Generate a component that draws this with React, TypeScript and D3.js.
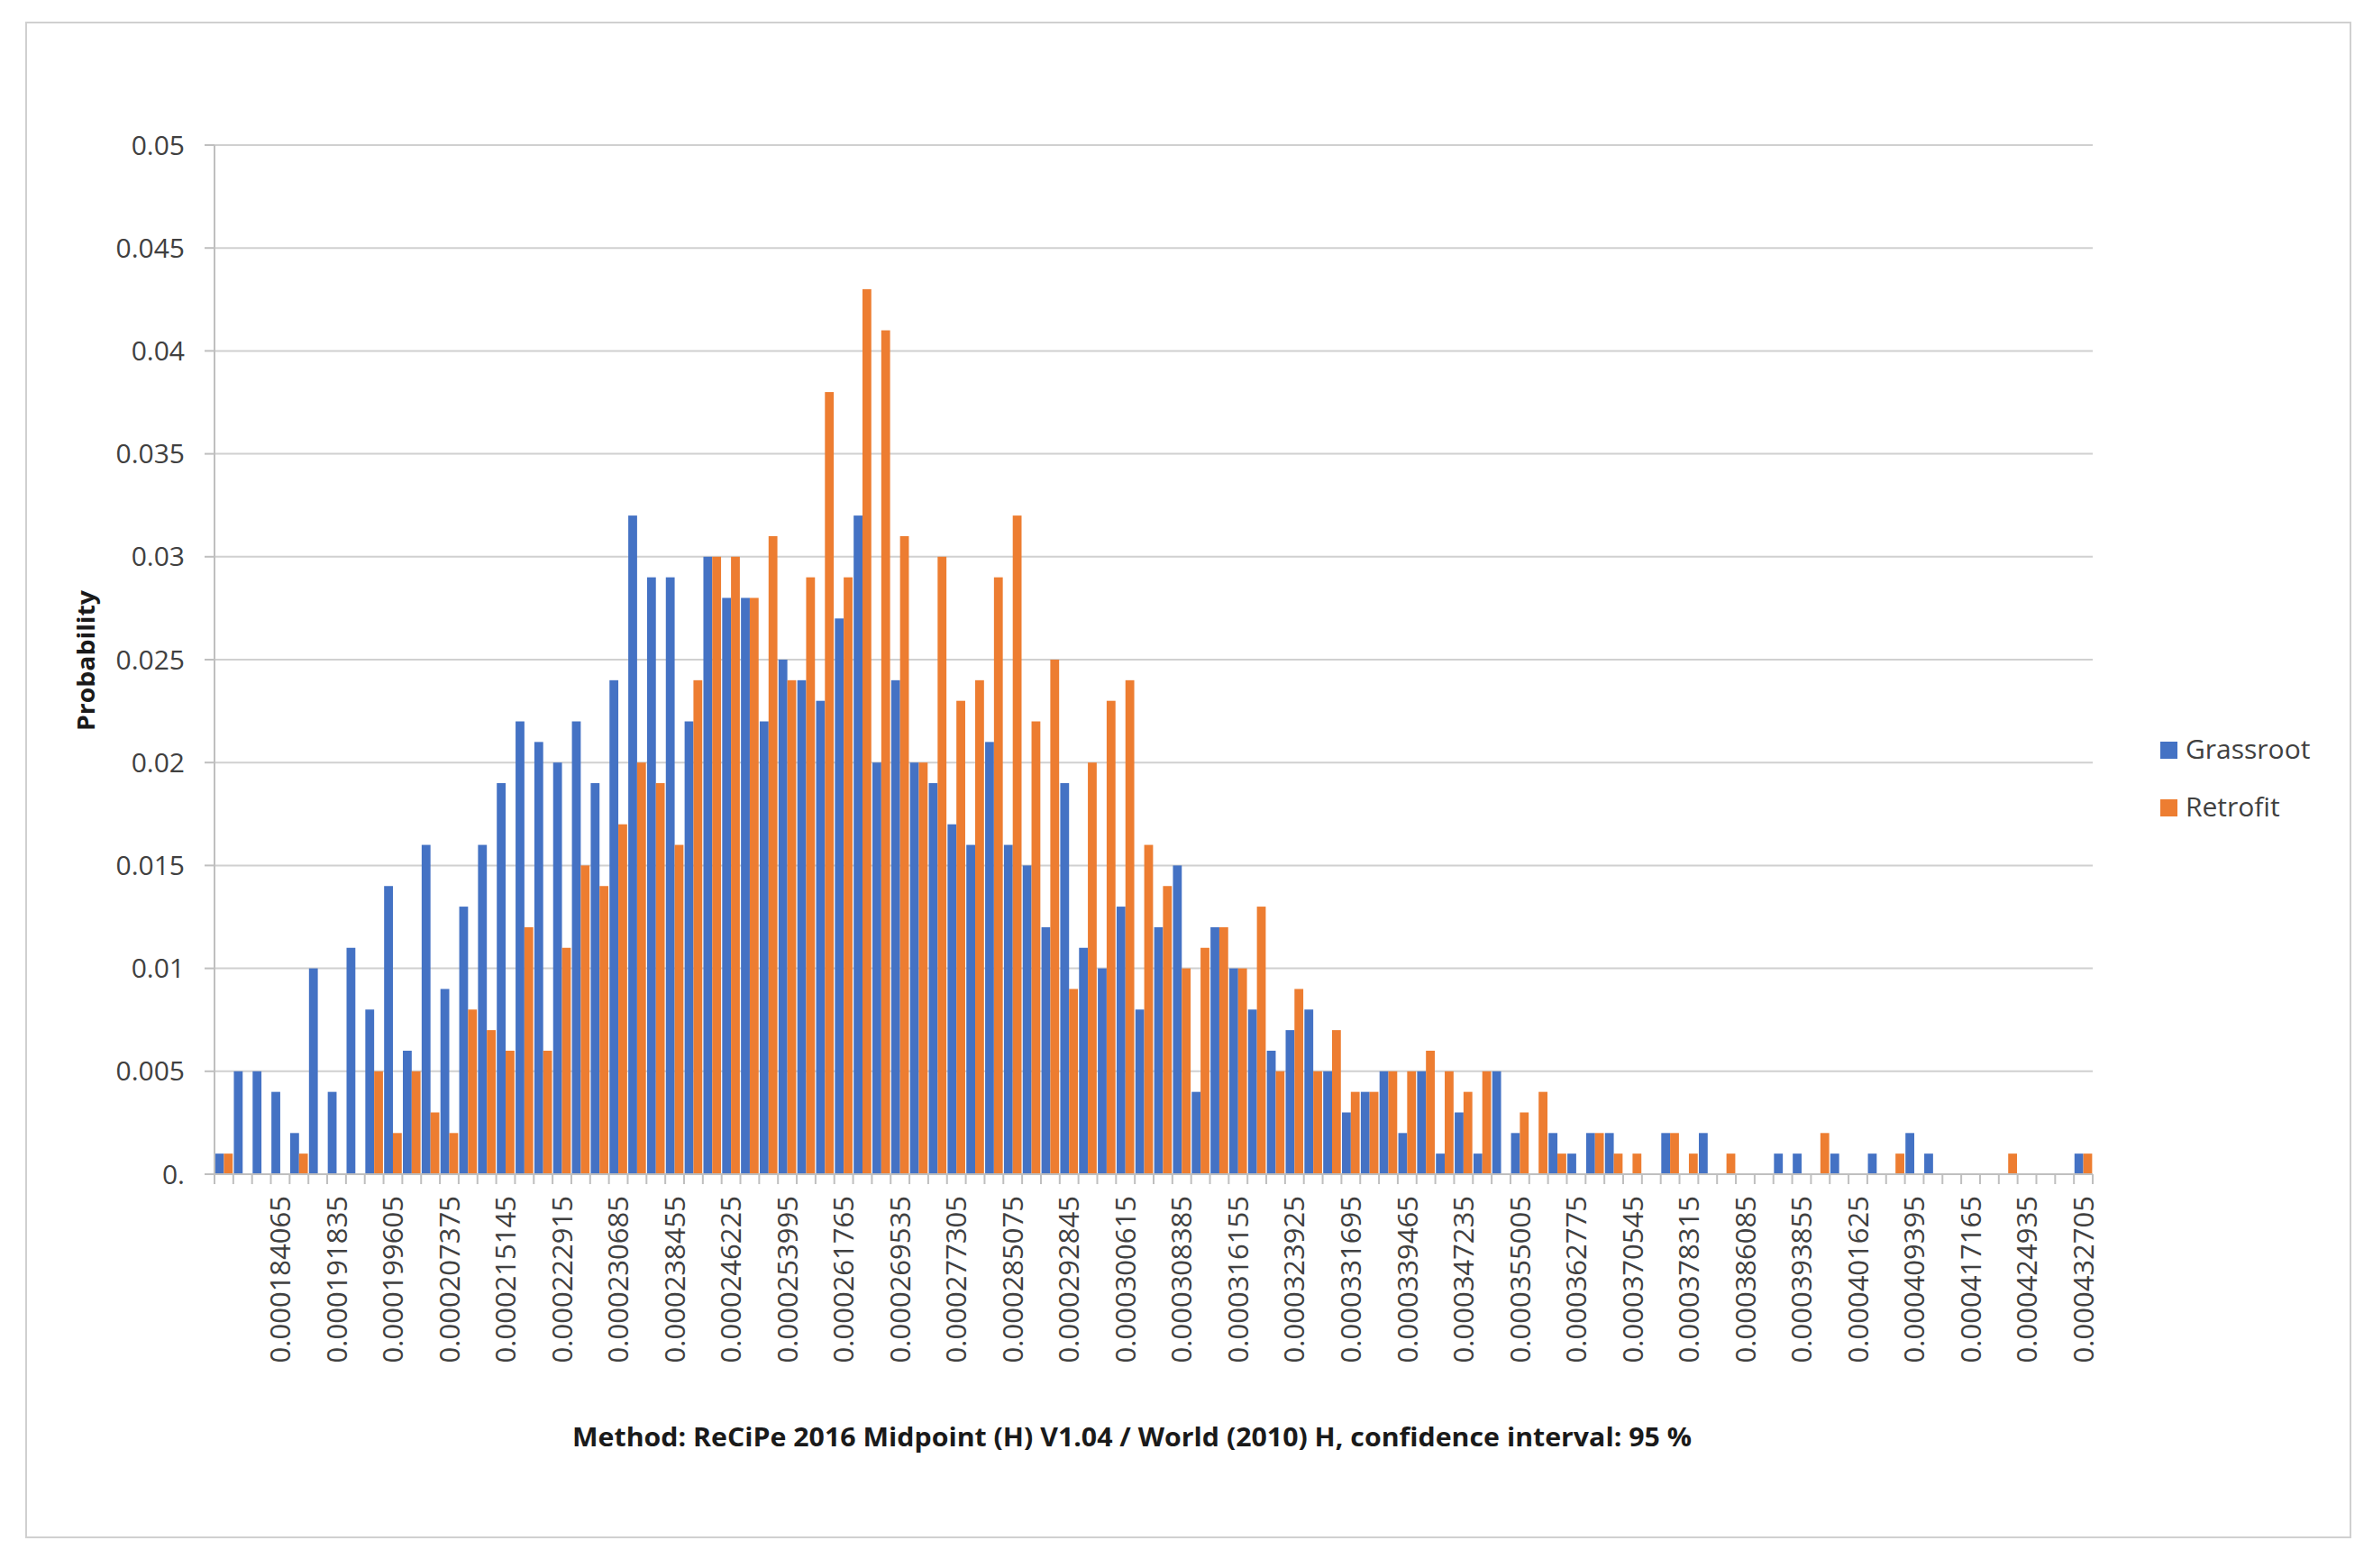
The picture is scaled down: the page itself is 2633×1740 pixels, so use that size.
import React from "react";
import * as d3 from "d3";

const categories: string[] = [
  "0.000176295","0.000178885","0.000181475","0.000184065","0.000186655","0.000189245","0.000191835","0.000194425","0.000197015","0.000199605",
  "0.000202195","0.000204785","0.000207375","0.000209965","0.000212555","0.000215145","0.000217735","0.000220325","0.000222915","0.000225505",
  "0.000228095","0.000230685","0.000233275","0.000235865","0.000238455","0.000241045","0.000243635","0.000246225","0.000248815","0.000251405",
  "0.000253995","0.000256585","0.000259175","0.000261765","0.000264355","0.000266945","0.000269535","0.000272125","0.000274715","0.000277305",
  "0.000279895","0.000282485","0.000285075","0.000287665","0.000290255","0.000292845","0.000295435","0.000298025","0.000300615","0.000303205",
  "0.000305795","0.000308385","0.000310975","0.000313565","0.000316155","0.000318745","0.000321335","0.000323925","0.000326515","0.000329105",
  "0.000331695","0.000334285","0.000336875","0.000339465","0.000342055","0.000344645","0.000347235","0.000349825","0.000352415","0.000355005",
  "0.000357595","0.000360185","0.000362775","0.000365365","0.000367955","0.000370545","0.000373135","0.000375725","0.000378315","0.000380905",
  "0.000383495","0.000386085","0.000388675","0.000391265","0.000393855","0.000396445","0.000399035","0.000401625","0.000404215","0.000406805",
  "0.000409395","0.000411985","0.000414575","0.000417165","0.000419755","0.000422345","0.000424935","0.000427525","0.000430115","0.000432705",
];

const grassroot: number[] = [
  0.001,0.005,0.005,0.004,0.002,0.010,0.004,0.011,0.008,0.014,
  0.006,0.016,0.009,0.013,0.016,0.019,0.022,0.021,0.020,0.022,
  0.019,0.024,0.032,0.029,0.029,0.022,0.030,0.028,0.028,0.022,
  0.025,0.024,0.023,0.027,0.032,0.020,0.024,0.020,0.019,0.017,
  0.016,0.021,0.016,0.015,0.012,0.019,0.011,0.010,0.013,0.008,
  0.012,0.015,0.004,0.012,0.010,0.008,0.006,0.007,0.008,0.005,
  0.003,0.004,0.005,0.002,0.005,0.001,0.003,0.001,0.005,0.002,
  0,0.002,0.001,0.002,0.002,0,0,0.002,0,0.002,
  0,0,0,0.001,0.001,0,0.001,0,0.001,0,
  0.002,0.001,0,0,0,0,0,0,0,0.001,
];

const retrofit: number[] = [
  0.001,0,0,0,0.001,0,0,0,0.005,0.002,
  0.005,0.003,0.002,0.008,0.007,0.006,0.012,0.006,0.011,0.015,
  0.014,0.017,0.020,0.019,0.016,0.024,0.030,0.030,0.028,0.031,
  0.024,0.029,0.038,0.029,0.043,0.041,0.031,0.020,0.030,0.023,
  0.024,0.029,0.032,0.022,0.025,0.009,0.020,0.023,0.024,0.016,
  0.014,0.010,0.011,0.012,0.010,0.013,0.005,0.009,0.005,0.007,
  0.004,0.004,0.005,0.005,0.006,0.005,0.004,0.005,0,0.003,
  0.004,0.001,0,0.002,0.001,0.001,0,0.002,0.001,0,
  0.001,0,0,0,0,0.002,0,0,0,0.001,
  0,0,0,0,0,0.001,0,0,0,0.001,
];

const seriesNames = ["Grassroot", "Retrofit"];
const seriesColors = ["#4472C4", "#ED7D31"];
const yTicks = [0, 0.005, 0.01, 0.015, 0.02, 0.025, 0.03, 0.035, 0.04, 0.045, 0.05];
const yTickLabels = ["0.", "0.005", "0.01", "0.015", "0.02", "0.025", "0.03", "0.035", "0.04", "0.045", "0.05"];
const labelEvery = 3;
const yTitle = "Probability";
const xTitle = "Method: ReCiPe 2016 Midpoint (H) V1.04 / World (2010) H, confidence interval: 95 %";

const W = 2633;
const H = 1740;
const L = 238, R = 2322, T = 161, B = 1303;
const PAD = 0.06;
const FONT = "'Open Sans', 'Noto Sans', sans-serif";

export default function App() {
  const x = d3.scaleBand<string>().domain(categories).range([L, R]).paddingInner(PAD).paddingOuter(PAD / 2);
  const xs = d3.scaleBand<string>().domain(seriesNames).range([0, x.bandwidth()]);
  const y = d3.scaleLinear().domain([0, 0.05]).range([B, T]);
  const step = x.step();
  const series = [grassroot, retrofit];
  const boundaries = d3.range(categories.length + 1).map((i) => L + i * step);

  return (
    <svg width={W} height={H} style={{ position: "absolute", left: 0, top: 0, background: "#fff" }}>
      <rect x={0} y={0} width={W} height={H} fill="#fff" />
      <rect x={29} y={25} width={2579} height={1681} fill="none" stroke="#d0d0d0" strokeWidth={2} />
      {yTicks.map((t, i) =>
        i === 0 ? null : (
          <line key={"g" + i} x1={L} x2={R} y1={y(t)} y2={y(t)} stroke="#d0d0d0" strokeWidth={2} />
        )
      )}
      {yTicks.map((t, i) => (
        <line key={"yt" + i} x1={227} x2={L} y1={y(t)} y2={y(t)} stroke="#bfbfbf" strokeWidth={2} />
      ))}
      {series.map((vals, s) =>
        vals.map((v, i) =>
          v > 0 ? (
            <rect
              key={s + "-" + i}
              x={(x(categories[i]) as number) + (xs(seriesNames[s]) as number)}
              y={y(v)}
              width={xs.bandwidth()}
              height={B - y(v)}
              fill={seriesColors[s]}
            />
          ) : null
        )
      )}
      <line x1={L} x2={L} y1={T} y2={B} stroke="#bfbfbf" strokeWidth={2} />
      <line x1={L} x2={R} y1={B} y2={B} stroke="#bfbfbf" strokeWidth={2} />
      {boundaries.map((bx, i) => (
        <line key={"xt" + i} x1={bx} x2={bx} y1={B} y2={B + 11} stroke="#bfbfbf" strokeWidth={2} />
      ))}
      {yTicks.map((t, i) => (
        <text key={"yl" + i} x={205} y={y(t)} dy="0.35em" textAnchor="end" fontFamily={FONT} fontSize={30} fill="#404040">
          {yTickLabels[i]}
        </text>
      ))}
      {categories.map((c, i) =>
        i % labelEvery === 0 && i > 0 ? (
          <text
            key={"xl" + i}
            transform={`translate(${(x(c) as number) + x.bandwidth() / 2},1327) rotate(-90)`}
            dy="0.36em"
            textAnchor="end"
            fontFamily={FONT}
            fontSize={31}
            fill="#404040"
          >
            {c}
          </text>
        ) : null
      )}
      <text
        transform="translate(96,733) rotate(-90)"
        dy="0.35em"
        textAnchor="middle"
        fontFamily={FONT}
        fontWeight="bold"
        fontSize={27}
        fill="#1a1a1a"
        textLength={156}
        lengthAdjust="spacingAndGlyphs"
      >
        {yTitle}
      </text>
      <text
        x={635}
        y={1605}
        fontFamily={FONT}
        fontWeight="bold"
        fontSize={28}
        fill="#1a1a1a"
        textLength={1242}
        lengthAdjust="spacingAndGlyphs"
      >
        {xTitle}
      </text>
      {seriesNames.map((n, i) => (
        <g key={"lg" + i} transform={`translate(2397,${823 + i * 64})`}>
          <rect x={0} y={0} width={19} height={19} fill={seriesColors[i]} />
          <text x={28} y={19} fontFamily={FONT} fontSize={30} fill="#404040">
            {n}
          </text>
        </g>
      ))}
    </svg>
  );
}
